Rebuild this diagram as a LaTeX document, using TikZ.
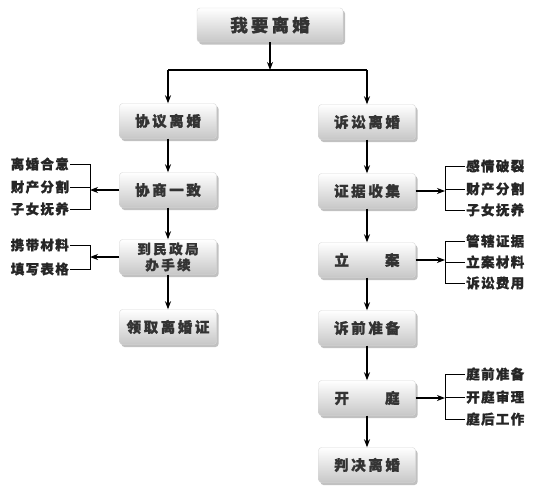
\documentclass[tikz,border=0pt]{standalone}
\usepackage{fontspec}
\newfontfamily\cjk[LetterSpace=18, BoldFeatures={FakeBold=1.2}]{Noto Sans CJK SC}
\newfontfamily\cjks[LetterSpace=10, BoldFeatures={FakeBold=1.0}]{Noto Sans CJK SC}
\usetikzlibrary{arrows.meta,shadows}
\begin{document}
\begin{tikzpicture}[x=1pt,y=-1pt,
  box/.style={rounded corners=3pt, minimum width=97pt, minimum height=35pt,
    top color=white, bottom color=black!22, draw=black!15, line width=0.4pt,
    drop shadow={shadow xshift=2pt, shadow yshift=-2.5pt, opacity=0.4, fill=black!60},
    font=\cjk\bfseries\fontsize{14.5}{17}\selectfont, text=black!80, align=center, inner sep=0pt},
  side/.style={font=\cjks\bfseries\fontsize{13.5}{15}\selectfont, text=black!85, inner sep=1pt},
  arr/.style={-{Stealth[length=8pt,width=6pt,inset=2.5pt]}, line width=1.3pt},
  ln/.style={line width=1pt}]
\useasboundingbox[fill=white] (0,0) rectangle (547,490);

% top
\node[box, minimum width=146pt, minimum height=34pt, font=\cjk\bfseries\fontsize{17.5}{20}\selectfont] (top) at (270,25) {我要离婚};
\coordinate (J) at (270,70);

% left column
\node[box] (L1) at (168,121) {协议离婚};
\node[box] (L2) at (168,190) {协商一致};
\node[box, font=\cjk\bfseries\fontsize{13.5}{16}\selectfont] (L3) at (168,257) {到民政局\\办手续};
\node[box] (L4) at (168,327) {领取离婚证};

% right column
\node[box] (R1) at (367,122) {诉讼离婚};
\node[box] (R2) at (367,191) {证据收集};
\node[box] (R3) at (367,260) {立\hspace{36pt}案};
\node[box] (R4) at (367,328) {诉前准备};
\node[box] (R5) at (367,398) {开\hspace{36pt}庭};
\node[box] (R6) at (367,465) {判决离婚};

% top connectors
\draw[arr] (top) -- (J);
\draw[ln, line width=1.5pt] (L1 |- J) -- (R1 |- J);
\draw[arr] (L1 |- J) -- (L1);
\draw[arr] (R1 |- J) -- (R1);

% main column arrows
\draw[arr] (L1) -- (L2);
\draw[arr] (L2) -- (L3);
\draw[arr] (L3) -- (L4);
\draw[arr] (R1) -- (R2);
\draw[arr] (R2) -- (R3);
\draw[arr] (R3) -- (R4);
\draw[arr] (R4) -- (R5);
\draw[arr] (R5) -- (R6);

% left bracket 1
\node[side, anchor=east] (a1) at (70,164) {离婚合意};
\node[side, anchor=east] (a2) at (70,187) {财产分割};
\node[side, anchor=east] (a3) at (70,209) {子女抚养};
\coordinate (ab) at (90,190);
\draw[ln] (a1.east) -| (ab |- a1) -- (ab |- a3) -- (a3.east);
\draw[ln] (a2.east) -- (ab |- a2);
\draw[arr] (L2.west) -- (ab);

% left bracket 2
\node[side, anchor=east] (b1) at (70,245) {携带材料};
\node[side, anchor=east] (b2) at (70,269) {填写表格};
\coordinate (bb) at (90,257);
\draw[ln] (b1.east) -- (bb |- b1) -- (bb |- b2) -- (b2.east);
\draw[arr] (L3.west) -- (bb);

% right bracket 1
\node[side, anchor=west] (c1) at (465,166) {感情破裂};
\node[side, anchor=west] (c2) at (465,189) {财产分割};
\node[side, anchor=west] (c3) at (465,210) {子女抚养};
\coordinate (cb) at (445,191);
\draw[ln] (c1.west) -- (cb |- c1) -- (cb |- c3) -- (c3.west);
\draw[ln] (c2.west) -- (cb |- c2);
\draw[arr] (R2.east) -- (cb);

% right bracket 2
\node[side, anchor=west] (d1) at (465,241) {管辖证据};
\node[side, anchor=west] (d2) at (465,262) {立案材料};
\node[side, anchor=west] (d3) at (465,283) {诉讼费用};
\coordinate (db) at (445,260);
\draw[ln] (d1.west) -- (db |- d1) -- (db |- d3) -- (d3.west);
\draw[ln] (d2.west) -- (db |- d2);
\draw[arr] (R3.east) -- (db);

% right bracket 3
\node[side, anchor=west] (e1) at (465,374) {庭前准备};
\node[side, anchor=west] (e2) at (465,397) {开庭审理};
\node[side, anchor=west] (e3) at (465,419) {庭后工作};
\coordinate (eb) at (445,398);
\draw[ln] (e1.west) -- (eb |- e1) -- (eb |- e3) -- (e3.west);
\draw[ln] (e2.west) -- (eb |- e2);
\draw[arr] (R5.east) -- (eb);
\end{tikzpicture}
\end{document}
